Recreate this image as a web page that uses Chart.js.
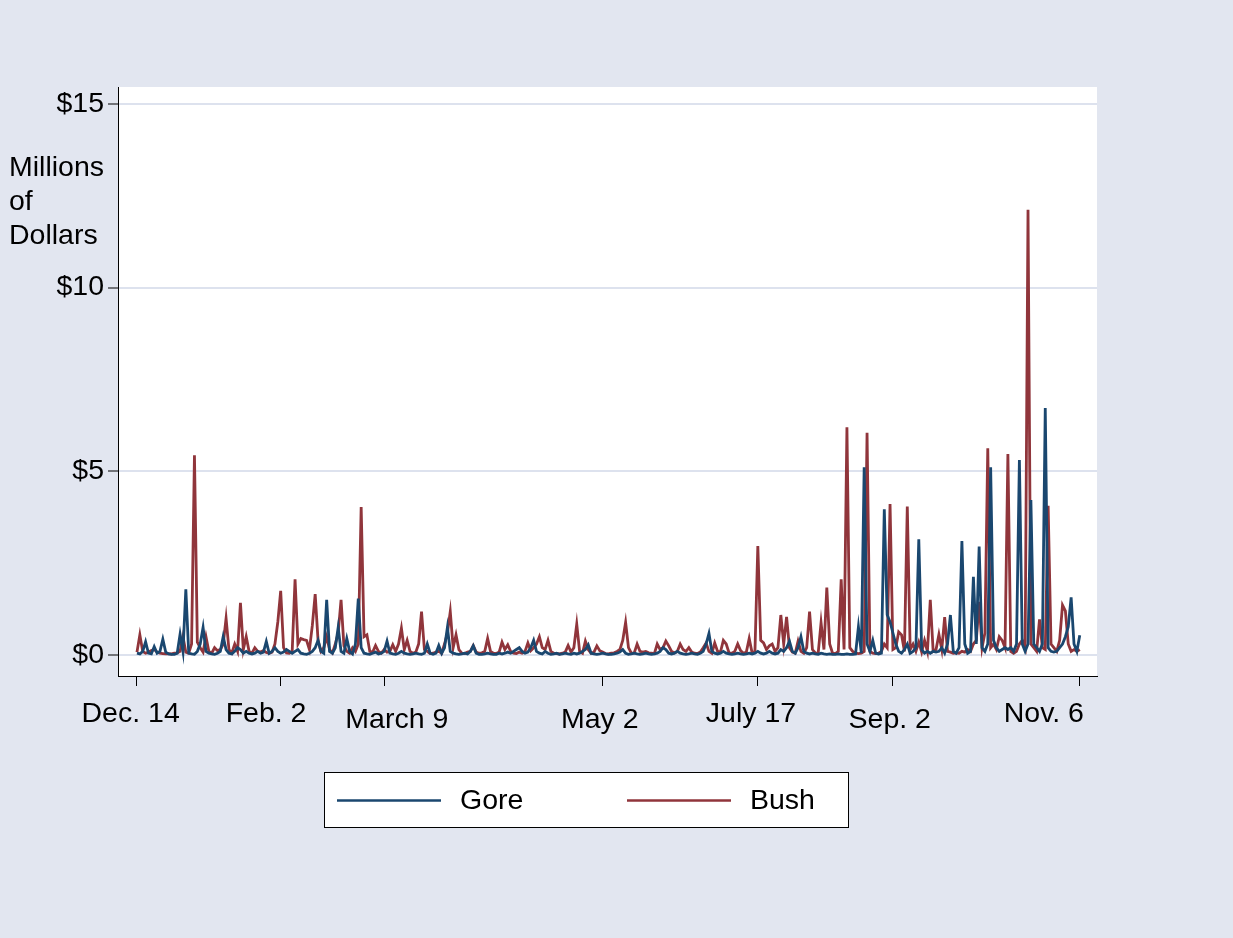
<!DOCTYPE html>
<html>
<head>
<meta charset="utf-8">
<script src="https://cdn.jsdelivr.net/npm/chart.js@4/dist/chart.umd.min.js"></script>
<style>
  html, body { margin: 0; padding: 0; background: #e2e6f0; }
  #wrap { width: 1233px; height: 938px; }
</style>
</head>
<body>
<div id="wrap"><canvas id="chart" width="1233" height="938"></canvas></div>
<script>
// Daily spending, millions of dollars, Dec. 14 (day 0) through Nov. 6 (day 328)
const gore = [
  0.05, 0.03, 0.10, 0.36, 0.05, 0.03, 0.23, 0.05, 0.10, 0.43,
  0.08, 0.03, 0.02, 0.02, 0.05, 0.57, 0.10, 1.79, 0.05, 0.03,
  0.02, 0.10, 0.30, 0.75, 0.10, 0.05, 0.03, 0.02, 0.05, 0.10,
  0.50, 0.15, 0.05, 0.03, 0.10, 0.20, 0.15, 0.05, 0.10, 0.05,
  0.03, 0.05, 0.10, 0.05, 0.08, 0.37, 0.05, 0.10, 0.20, 0.10,
  0.05, 0.08, 0.15, 0.10, 0.05, 0.10, 0.15, 0.05, 0.03, 0.02,
  0.05, 0.10, 0.20, 0.40, 0.10, 0.05, 1.50, 0.10, 0.05, 0.20,
  0.75, 0.10, 0.05, 0.45, 0.10, 0.03, 0.30, 1.54, 0.20, 0.05,
  0.03, 0.02, 0.05, 0.08, 0.03, 0.05, 0.10, 0.38, 0.05, 0.03,
  0.02, 0.05, 0.10, 0.05, 0.03, 0.02, 0.03, 0.05, 0.03, 0.02,
  0.05, 0.30, 0.05, 0.02, 0.05, 0.26, 0.05, 0.20, 0.75, 0.10,
  0.05, 0.03, 0.02, 0.03, 0.05, 0.03, 0.10, 0.25, 0.05, 0.02,
  0.02, 0.03, 0.05, 0.03, 0.02, 0.02, 0.05, 0.03, 0.05, 0.08,
  0.05, 0.10, 0.15, 0.20, 0.10, 0.05, 0.08, 0.20, 0.40, 0.10,
  0.05, 0.03, 0.10, 0.05, 0.02, 0.03, 0.05, 0.02, 0.03, 0.05,
  0.03, 0.02, 0.05, 0.03, 0.05, 0.10, 0.15, 0.28, 0.05, 0.03,
  0.02, 0.03, 0.05, 0.03, 0.02, 0.02, 0.03, 0.05, 0.08, 0.15,
  0.05, 0.02, 0.03, 0.05, 0.03, 0.02, 0.03, 0.05, 0.03, 0.02,
  0.03, 0.05, 0.10, 0.20, 0.15, 0.05, 0.03, 0.05, 0.10, 0.05,
  0.03, 0.02, 0.03, 0.05, 0.03, 0.02, 0.05, 0.10, 0.30, 0.59,
  0.10, 0.05, 0.03, 0.05, 0.10, 0.05, 0.03, 0.02, 0.03, 0.05,
  0.03, 0.02, 0.03, 0.05, 0.03, 0.05, 0.10, 0.05, 0.03, 0.05,
  0.10, 0.05, 0.03, 0.05, 0.15, 0.10, 0.20, 0.38, 0.10, 0.05,
  0.20, 0.50, 0.10, 0.05, 0.03, 0.05, 0.03, 0.02, 0.05, 0.03,
  0.02, 0.03, 0.02, 0.02, 0.03, 0.02, 0.02, 0.03, 0.02, 0.02,
  0.03, 0.77, 0.05, 5.11, 0.30, 0.10, 0.40, 0.05, 0.03, 0.05,
  3.97, 1.10, 0.90, 0.60, 0.30, 0.10, 0.05, 0.15, 0.30, 0.05,
  0.10, 0.20, 3.15, 0.15, 0.05, 0.10, 0.05, 0.10, 0.08, 0.10,
  0.20, 0.05, 0.30, 1.09, 0.10, 0.05, 0.20, 3.10, 0.30, 0.05,
  0.10, 2.13, 0.30, 2.95, 0.20, 0.10, 0.30, 5.11, 0.40, 0.20,
  0.10, 0.15, 0.20, 0.15, 0.20, 0.10, 0.30, 5.31, 0.30, 0.10,
  0.30, 4.22, 0.30, 0.20, 0.10, 0.30, 6.72, 0.20, 0.10, 0.08,
  0.10, 0.20, 0.30, 0.50, 0.77, 1.57, 0.30, 0.10, 0.54
];

const bush = [
  0.08, 0.55, 0.10, 0.05, 0.08, 0.12, 0.15, 0.08, 0.05, 0.04,
  0.03, 0.04, 0.03, 0.05, 0.06, 0.10, 0.50, 0.08, 0.05, 0.30,
  5.44, 0.35, 0.20, 0.08, 0.50, 0.10, 0.05, 0.20, 0.12, 0.15,
  0.30, 1.00, 0.15, 0.06, 0.30, 0.10, 1.42, 0.15, 0.50, 0.10,
  0.05, 0.20, 0.10, 0.08, 0.12, 0.07, 0.05, 0.08, 0.30, 0.90,
  1.75, 0.20, 0.06, 0.05, 0.10, 2.06, 0.30, 0.45, 0.42, 0.40,
  0.15, 0.80, 1.66, 0.40, 0.10, 0.20, 0.50, 0.15, 0.06, 0.30,
  0.60, 1.50, 0.25, 0.10, 0.05, 0.20, 0.10, 0.30, 4.03, 0.50,
  0.55, 0.10, 0.08, 0.26, 0.10, 0.05, 0.15, 0.08, 0.10, 0.28,
  0.10, 0.30, 0.73, 0.15, 0.40, 0.10, 0.05, 0.08, 0.30, 1.18,
  0.15, 0.10, 0.04, 0.05, 0.08, 0.10, 0.05, 0.30, 0.60, 1.18,
  0.20, 0.55, 0.15, 0.05, 0.04, 0.08, 0.10, 0.26, 0.08, 0.05,
  0.06, 0.10, 0.45, 0.10, 0.05, 0.04, 0.08, 0.35, 0.15, 0.28,
  0.10, 0.05, 0.04, 0.08, 0.05, 0.10, 0.33, 0.12, 0.20, 0.30,
  0.50, 0.20, 0.15, 0.40, 0.10, 0.05, 0.04, 0.03, 0.05, 0.08,
  0.26, 0.08, 0.20, 0.84, 0.10, 0.05, 0.38, 0.15, 0.05, 0.08,
  0.25, 0.12, 0.08, 0.04, 0.03, 0.05, 0.06, 0.10, 0.15, 0.40,
  0.89, 0.20, 0.05, 0.06, 0.30, 0.10, 0.08, 0.10, 0.06, 0.05,
  0.04, 0.30, 0.15, 0.20, 0.38, 0.25, 0.10, 0.06, 0.10, 0.30,
  0.15, 0.10, 0.20, 0.08, 0.05, 0.04, 0.08, 0.20, 0.33, 0.10,
  0.05, 0.33, 0.10, 0.08, 0.40, 0.30, 0.06, 0.05, 0.10, 0.30,
  0.12, 0.05, 0.08, 0.45, 0.06, 0.10, 2.97, 0.40, 0.33, 0.15,
  0.25, 0.30, 0.10, 0.20, 1.09, 0.30, 1.04, 0.20, 0.08, 0.05,
  0.38, 0.10, 0.05, 0.20, 1.18, 0.15, 0.06, 0.05, 0.88, 0.15,
  1.84, 0.30, 0.05, 0.04, 0.10, 2.06, 0.15, 6.20, 0.20, 0.10,
  0.05, 0.04, 0.05, 0.10, 6.05, 0.10, 0.05, 0.04, 0.05, 0.10,
  0.30, 0.20, 4.11, 0.15, 0.20, 0.63, 0.55, 0.10, 4.04, 0.15,
  0.30, 0.10, 0.35, 0.08, 0.40, 0.10, 1.50, 0.10, 0.15, 0.56,
  0.15, 1.03, 0.10, 0.08, 0.05, 0.06, 0.05, 0.10, 0.08, 0.15,
  0.10, 0.30, 0.40, 1.45, 0.20, 0.60, 5.63, 0.20, 0.30, 0.15,
  0.50, 0.40, 0.20, 5.47, 0.10, 0.05, 0.10, 0.30, 0.40, 0.20,
  12.12, 0.30, 0.20, 0.10, 0.97, 0.20, 0.15, 4.06, 0.30, 0.20,
  0.10, 0.40, 1.36, 1.20, 0.30, 0.10, 0.15, 0.10, 0.15
];

// x-axis: day numbers that carry a tick mark, and the dates printed under them
const xTickDays   = [0, 50, 86, 162, 216, 263, 328];
const xTickLabels = ['Dec. 14', 'Feb. 2', 'March 9', 'May 2', 'July 17', 'Sep. 2', 'Nov. 6'];

// y-axis ticks (millions of dollars) and their labels
const yTickValues = [0, 5, 10, 15];
const yTickLabels = ['$0', '$5', '$10', '$15'];

const seriesNames  = ['Gore', 'Bush'];
const seriesColors = ['#1a476f', '#90353b'];

// ---- layout of the date labels: where each is centred (in days) and which sit slightly lower
const xLabelCentres = [-2.2, 44.9, 90.4, 161, 213.6, 261.9, 315.5];
const xLabelLower   = [false, false, true, true, false, true, false];

const FONT = '"Liberation Sans", Arial, sans-serif';
const TEXT_SIZE = 28.5;
const X_MIN = -6.6, X_MAX = 334;

const toPoints = arr => arr.map((v, i) => ({ x: i, y: v }));

// Plot area background, y title and framed legend
const decorations = {
  id: 'decorations',
  beforeDraw(chart) {
    const { ctx, chartArea: a } = chart;
    ctx.save();
    ctx.fillStyle = '#ffffff';
    ctx.fillRect(a.left, a.top, a.right - a.left, a.bottom - a.top);
    ctx.restore();
  },
  afterDraw(chart) {
    const { ctx } = chart;
    ctx.save();
    ctx.fillStyle = '#000';
    ctx.font = `${TEXT_SIZE}px ${FONT}`;
    ctx.textAlign = 'left';
    ctx.textBaseline = 'alphabetic';
    ['Millions', 'of', 'Dollars'].forEach((t, i) => ctx.fillText(t, 9, 176 + i * 34));

    // legend box
    const bx = 324, by = 772, bw = 524, bh = 55;
    ctx.fillStyle = '#ffffff';
    ctx.fillRect(bx, by, bw, bh);
    ctx.strokeStyle = '#000';
    ctx.lineWidth = 1;
    ctx.strokeRect(bx + 0.5, by + 0.5, bw, bh);
    [337, 627].forEach((x, i) => {
      const ly = by + bh / 2 + 1;
      ctx.strokeStyle = seriesColors[i];
      ctx.lineWidth = 2.5;
      ctx.beginPath();
      ctx.moveTo(x, ly);
      ctx.lineTo(x + 104, ly);
      ctx.stroke();
      ctx.fillStyle = '#000';
      ctx.textBaseline = 'middle';
      ctx.fillText(seriesNames[i], x + 123, ly + 1);
    });
    ctx.restore();
  }
};

new Chart(document.getElementById('chart'), {
  type: 'line',
  data: {
    datasets: [
      { label: seriesNames[0], data: toPoints(gore), borderColor: seriesColors[0], borderWidth: 2.8, pointRadius: 0, tension: 0, fill: false, xAxisID: 'x' },
      { label: seriesNames[1], data: toPoints(bush), borderColor: seriesColors[1], borderWidth: 2.8, pointRadius: 0, tension: 0, fill: false, xAxisID: 'x' }
    ]
  },
  options: {
    responsive: false,
    animation: false,
    layout: { padding: { top: 87, right: 136, bottom: 162, left: 0 } },
    plugins: { legend: { display: false }, tooltip: { enabled: false }, title: { display: false } },
    scales: {
      // axis line and tick marks
      x: {
        type: 'linear',
        position: 'bottom',
        min: X_MIN,
        max: X_MAX,
        afterBuildTicks: s => { s.ticks = xTickDays.map(v => ({ value: v })); },
        afterFit: s => { s.height = 10; },
        ticks: { display: false },
        grid: { drawOnChartArea: false, drawTicks: true, tickLength: 10, tickColor: '#000', tickWidth: 1 },
        border: { display: true, color: '#000', width: 1 }
      },
      // date labels; the lowered ones carry an empty first line of 6px
      xLabels: {
        type: 'linear',
        position: 'bottom',
        min: X_MIN,
        max: X_MAX,
        afterBuildTicks: s => { s.ticks = xLabelCentres.map(v => ({ value: v })); },
        afterFit: s => { s.height = 90; },
        ticks: {
          autoSkip: false,
          maxRotation: 0,
          padding: 17,
          color: '#000',
          font: { family: FONT, size: TEXT_SIZE, lineHeight: '6px' },
          callback: (v, i) => xLabelLower[i] ? ['', xTickLabels[i]] : xTickLabels[i]
        },
        grid: { display: false, drawOnChartArea: false },
        border: { display: false }
      },
      y: {
        min: -0.57,
        max: 15.46,
        afterBuildTicks: s => { s.ticks = yTickValues.map(v => ({ value: v })); },
        afterFit: s => { s.width = 118; },
        ticks: {
          padding: 4,
          color: '#000',
          font: { family: FONT, size: TEXT_SIZE },
          callback: v => {
            const i = yTickValues.indexOf(v);
            return i < 0 ? '' : yTickLabels[i];
          }
        },
        grid: { color: '#dde2ee', lineWidth: 2, drawTicks: true, tickLength: 10, tickColor: '#000', tickWidth: 1 },
        border: { display: true, color: '#000', width: 1 }
      }
    }
  },
  plugins: [decorations]
});
</script>
</body>
</html>
